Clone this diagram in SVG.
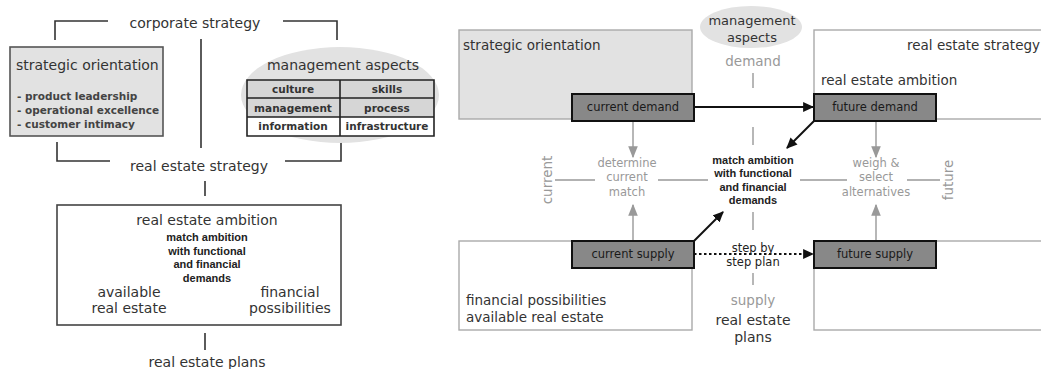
<svg xmlns="http://www.w3.org/2000/svg" width="1041" height="369" viewBox="0 0 1041 369">
<defs>
<style>
text{font-family:"DejaVu Sans",Verdana,sans-serif;fill:#333}
.t14{font-size:14px}
.t13{font-size:13.5px}
.sm{font-size:10.5px;font-weight:bold;fill:#444}
.cell{font-size:10.5px;font-weight:bold;fill:#333}
.arial{font-family:"Liberation Sans",Arial,sans-serif;font-size:11px;font-weight:bold;fill:#222}
.gt{fill:#999;font-size:11.5px}
.gt13{fill:#999;font-size:13.5px}
.ln{stroke:#333;stroke-width:1.6;fill:none}
.gl{stroke:#999;stroke-width:1.4;fill:none}
.node{fill:#888;stroke:#111;stroke-width:2}
.nt{font-size:11.5px;fill:#1a1a1a;text-anchor:middle}
.mid{text-anchor:middle}
</style>
<marker id="ab" viewBox="0 0 10 10" refX="9" refY="5" markerWidth="11" markerHeight="11" markerUnits="userSpaceOnUse" orient="auto"><path d="M0,0.5 L10,5 L0,9.5 z" fill="#111"/></marker>
<marker id="ag" viewBox="0 0 10 10" refX="9" refY="5" markerWidth="12" markerHeight="12" markerUnits="userSpaceOnUse" orient="auto"><path d="M0,1 L10,5 L0,9 z" fill="#999"/></marker>
</defs>

<!-- LEFT DIAGRAM -->
<g id="left-connectors">
<path class="ln" d="M55,40 V21 H108"/>
<path class="ln" d="M283,21 H337 V40"/>
<path class="ln" d="M201,39 V148"/>
<path class="ln" d="M57,142 V161 H110"/>
<path class="ln" d="M285,161 H341 V142"/>
<path class="ln" d="M205,181 V196"/>
<path class="ln" d="M154,236 V276"/>
<path class="ln" d="M258,236 V276"/>
<path class="ln" d="M183,296 H235"/>
<path class="ln" d="M205,333 V350"/>
</g>
<g id="corporate-strategy"><text class="t14 mid" x="195" y="28">corporate strategy</text></g>
<g id="strategic-orientation-left">
<rect x="10" y="47" width="153" height="89" fill="#e2e2e2" stroke="#555" stroke-width="1.6"/>
<text class="t14" x="16" y="70">strategic orientation</text>
<text class="sm" x="17" y="100">- product leadership</text>
<text class="sm" x="17" y="114">- operational excellence</text>
<text class="sm" x="17" y="128">- customer intimacy</text>
</g>
<g id="management-aspects-left">
<ellipse cx="340" cy="95" rx="99" ry="48" fill="#e2e2e2"/>
<text class="t14 mid" x="343" y="70">management aspects</text>
<rect x="247" y="80" width="187" height="37" fill="#d6d6d6"/>
<rect x="247" y="117" width="187" height="19" fill="#fff"/>
<path d="M247,80 H434 V136 H247 Z M247,98 H434 M247,117 H434 M340,80 V136" stroke="#222" stroke-width="1.6" fill="none"/>
<text class="cell mid" x="293" y="93">culture</text>
<text class="cell mid" x="387" y="93">skills</text>
<text class="cell mid" x="293" y="112">management</text>
<text class="cell mid" x="387" y="112">process</text>
<text class="cell mid" x="293" y="130">information</text>
<text class="cell mid" x="387" y="130">infrastructure</text>
</g>
<g id="real-estate-strategy-left"><text class="t14 mid" x="199" y="171">real estate strategy</text></g>
<g id="real-estate-ambition-left">
<rect x="57" y="205" width="284" height="120" fill="#fff" stroke="#444" stroke-width="1.6"/>
<text class="t14 mid" x="207" y="225">real estate ambition</text>
<text class="arial mid" x="207" y="241">match ambition</text>
<text class="arial mid" x="207" y="255">with functional</text>
<text class="arial mid" x="207" y="268">and financial</text>
<text class="arial mid" x="207" y="282">demands</text>
<text class="t14 mid" x="129" y="297">available</text>
<text class="t14 mid" x="129" y="313">real estate</text>
<text class="t14 mid" x="290" y="297">financial</text>
<text class="t14 mid" x="290" y="313">possibilities</text>
</g>
<g id="real-estate-plans-left"><text class="t14 mid" x="207" y="367">real estate plans</text></g>

<!-- RIGHT DIAGRAM -->
<g id="strategic-orientation-right">
<rect x="459" y="30" width="233" height="89" fill="#e2e2e2" stroke="#aaa" stroke-width="1.4"/>
<text class="t13" x="463" y="50">strategic orientation</text>
</g>
<g id="real-estate-strategy-right">
<rect x="814" y="30" width="240" height="89" fill="#fff" stroke="#aaa" stroke-width="1.4"/>
<text class="t13" x="1040" y="50" text-anchor="end">real estate strategy</text>
<text class="t13" x="821" y="85">real estate ambition</text>
</g>
<g id="financial-right">
<rect x="459" y="241" width="233" height="89" fill="#fff" stroke="#aaa" stroke-width="1.4"/>
<text class="t13" x="466" y="305">financial possibilities</text>
<text class="t13" x="466" y="322">available real estate</text>
</g>
<g id="future-supply-area">
<rect x="814" y="241" width="240" height="89" fill="#fff" stroke="#aaa" stroke-width="1.4"/>
</g>
<g id="management-aspects-right">
<ellipse cx="751" cy="27" rx="51" ry="21" fill="#e2e2e2"/>
<text class="mid" x="752" y="25" style="font-size:13px">management</text>
<text class="mid" x="752" y="42" style="font-size:13px">aspects</text>
</g>

<g id="right-connectors">
<path class="gl" d="M753,73 V88"/>
<path class="gl" d="M753,127 V145"/>
<path class="gl" d="M753,212 V230"/>
<path class="gl" d="M753,273 V285"/>
<path class="gl" d="M555,180 H595"/>
<path class="gl" d="M658,180 H708"/>
<path class="gl" d="M800,180 H847"/>
<path class="gl" d="M907,180 H940"/>
<path class="gl" d="M633,121 V157" marker-end="url(#ag)"/>
<path class="gl" d="M633,241 V205" marker-end="url(#ag)"/>
<path class="gl" d="M876,121 V157" marker-end="url(#ag)"/>
<path class="gl" d="M876,241 V205" marker-end="url(#ag)"/>
<path stroke="#111" stroke-width="2" fill="none" d="M694,107 H813" marker-end="url(#ab)"/>
<path stroke="#111" stroke-width="2" fill="none" d="M814,121 L787,148" marker-end="url(#ab)"/>
<path stroke="#111" stroke-width="2" fill="none" d="M694,241 L723,212" marker-end="url(#ab)"/>
<path stroke="#111" stroke-width="2" fill="none" stroke-dasharray="2.5,2.5" d="M694,254 H813" marker-end="url(#ab)"/>
</g>

<g id="current-demand"><rect class="node" x="572" y="94" width="122" height="27"/><text class="nt" x="633" y="111">current demand</text></g>
<g id="future-demand"><rect class="node" x="814" y="94" width="122" height="27"/><text class="nt" x="875" y="111">future demand</text></g>
<g id="current-supply"><rect class="node" x="572" y="241" width="122" height="27"/><text class="nt" x="633" y="258">current supply</text></g>
<g id="future-supply"><rect class="node" x="814" y="241" width="122" height="27"/><text class="nt" x="875" y="258">future supply</text></g>

<g id="labels-right">
<text class="gt13 mid" x="753" y="66">demand</text>
<text class="gt13 mid" x="753" y="305">supply</text>
<text class="gt mid" x="627" y="167">determine</text>
<text class="gt mid" x="627" y="181">current</text>
<text class="gt mid" x="627" y="196">match</text>
<text class="gt mid" x="876" y="167">weigh &amp;</text>
<text class="gt mid" x="876" y="181">select</text>
<text class="gt mid" x="876" y="196">alternatives</text>
<text class="gt13 mid" transform="translate(552,180) rotate(-90)">current</text>
<text class="gt13 mid" transform="translate(953,180) rotate(-90)">future</text>
<text class="arial mid" x="753" y="164">match ambition</text>
<text class="arial mid" x="753" y="177">with functional</text>
<text class="arial mid" x="753" y="191">and financial</text>
<text class="arial mid" x="753" y="204">demands</text>
<text class="mid" x="753" y="252" style="font-size:11.5px;fill:#222">step by</text>
<text class="mid" x="753" y="266" style="font-size:11.5px;fill:#222">step plan</text>
<text class="t14 mid" x="753" y="325">real estate</text>
<text class="t14 mid" x="753" y="342">plans</text>
</g>
</svg>
